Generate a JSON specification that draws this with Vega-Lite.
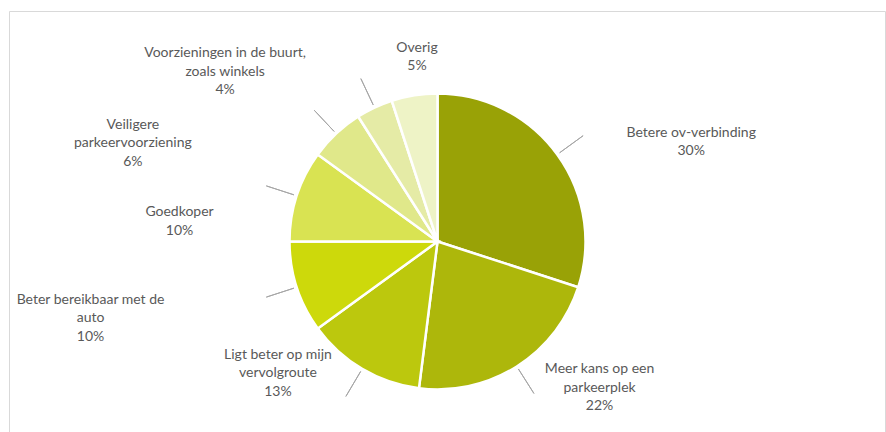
{
  "$schema": "https://vega.github.io/schema/vega-lite/v6.json",
  "width": 876,
  "height": 421,
  "autosize": "none",
  "padding": {"left": 9, "top": 11, "right": 1, "bottom": 0},
  "background": "white",
  "view": {"stroke": "#D9D9D9", "strokeWidth": 1},
  "config": {
    "view": {"stroke": "#D9D9D9", "strokeWidth": 1},
    "text": {"align": "center", "baseline": "middle", "lineBreak": "\n", "font": "Lato", "fontSize": 14, "lineHeight": 18.5, "fill": "#595959"}
  },
  "data": {
    "values": [
      {"rank": 1, "category": "Betere ov-verbinding", "label": "Betere ov-verbinding\n30%", "value": 30},
      {"rank": 2, "category": "Meer kans op een parkeerplek", "label": "Meer kans op een\nparkeerplek\n22%", "value": 22},
      {"rank": 3, "category": "Ligt beter op mijn vervolgroute", "label": "Ligt beter op mijn\nvervolgroute\n13%", "value": 13},
      {"rank": 4, "category": "Beter bereikbaar met de auto", "label": "Beter bereikbaar met de\nauto\n10%", "value": 10},
      {"rank": 5, "category": "Goedkoper", "label": "Goedkoper\n10%", "value": 10},
      {"rank": 6, "category": "Veiligere parkeervoorziening", "label": "Veiligere\nparkeervoorziening\n6%", "value": 6},
      {"rank": 7, "category": "Voorzieningen in de buurt, zoals winkels", "label": "Voorzieningen in de buurt,\nzoals winkels\n4%", "value": 4},
      {"rank": 8, "category": "Overig", "label": "Overig\n5%", "value": 5}
    ]
  },
  "encoding": {
    "theta": {"field": "value", "type": "quantitative", "stack": true},
    "order": {"field": "rank", "type": "quantitative"}
  },
  "layer": [
    {
      "mark": {"type": "arc", "radius": 148, "stroke": "white", "strokeWidth": 2.5, "x": {"expr": "width/2-9.5"}, "y": {"expr": "height/2+20"}},
      "encoding": {
        "color": {
          "field": "category",
          "type": "nominal",
          "legend": null,
          "scale": {
            "domain": ["Betere ov-verbinding", "Meer kans op een parkeerplek", "Ligt beter op mijn vervolgroute", "Beter bereikbaar met de auto", "Goedkoper", "Veiligere parkeervoorziening", "Voorzieningen in de buurt, zoals winkels", "Overig"],
            "range": ["#99A206", "#ADB70B", "#BCC80D", "#CDD90B", "#D9E352", "#E0E88A", "#E5EBA6", "#EEF3C6"]
          }
        }
      }
    },
    {
      "mark": {"type": "arc", "radius": 180, "radius2": 151, "padAngle": 3, "fillOpacity": 0, "stroke": "#A6A6A6", "strokeWidth": 1, "x": {"expr": "width/2-9.5"}, "y": {"expr": "height/2+20"}},
      "encoding": {
        "detail": {"field": "category", "type": "nominal"},
        "strokeOpacity": {"condition": {"test": "datum.category !== 'Overig'", "value": 1}, "value": 0}
      }
    },
    {
      "mark": {"type": "text", "radius": 190, "dx": 100, "dy": 3, "x": {"expr": "width/2-9.5"}, "y": {"expr": "height/2+20"}},
      "encoding": {
        "detail": {"field": "category", "type": "nominal"},
        "text": {"field": "label", "type": "nominal"},
        "opacity": {"condition": {"test": "datum.rank == 1", "value": 1}, "value": 0}
      }
    },
    {
      "mark": {"type": "text", "radius": 170, "dx": 71, "dy": -16, "x": {"expr": "width/2-9.5"}, "y": {"expr": "height/2+20"}},
      "encoding": {
        "detail": {"field": "category", "type": "nominal"},
        "text": {"field": "label", "type": "nominal"},
        "opacity": {"condition": {"test": "datum.rank == 2", "value": 1}, "value": 0}
      }
    },
    {
      "mark": {"type": "text", "radius": 170, "dx": -73, "dy": -33, "x": {"expr": "width/2-9.5"}, "y": {"expr": "height/2+20"}},
      "encoding": {
        "detail": {"field": "category", "type": "nominal"},
        "text": {"field": "label", "type": "nominal"},
        "opacity": {"condition": {"test": "datum.rank == 3", "value": 1}, "value": 0}
      }
    },
    {
      "mark": {"type": "text", "radius": 185, "dx": -171, "dy": 1, "x": {"expr": "width/2-9.5"}, "y": {"expr": "height/2+20"}},
      "encoding": {
        "detail": {"field": "category", "type": "nominal"},
        "text": {"field": "label", "type": "nominal"},
        "opacity": {"condition": {"test": "datum.rank == 4", "value": 1}, "value": 0}
      }
    },
    {
      "mark": {"type": "text", "radius": 185, "dx": -82, "dy": 28, "x": {"expr": "width/2-9.5"}, "y": {"expr": "height/2+20"}},
      "encoding": {
        "detail": {"field": "category", "type": "nominal"},
        "text": {"field": "label", "type": "nominal"},
        "opacity": {"condition": {"test": "datum.rank == 5", "value": 1}, "value": 0}
      }
    },
    {
      "mark": {"type": "text", "radius": 185, "dx": -178, "dy": 18, "x": {"expr": "width/2-9.5"}, "y": {"expr": "height/2+20"}},
      "encoding": {
        "detail": {"field": "category", "type": "nominal"},
        "text": {"field": "label", "type": "nominal"},
        "opacity": {"condition": {"test": "datum.rank == 6", "value": 1}, "value": 0}
      }
    },
    {
      "mark": {"type": "text", "radius": 210, "dx": -123, "dy": 2, "x": {"expr": "width/2-9.5"}, "y": {"expr": "height/2+20"}},
      "encoding": {
        "detail": {"field": "category", "type": "nominal"},
        "text": {"field": "label", "type": "nominal"},
        "opacity": {"condition": {"test": "datum.rank == 7", "value": 1}, "value": 0}
      }
    },
    {
      "mark": {"type": "text", "radius": 195, "dx": 10, "dy": -1, "x": {"expr": "width/2-9.5"}, "y": {"expr": "height/2+20"}},
      "encoding": {
        "detail": {"field": "category", "type": "nominal"},
        "text": {"field": "label", "type": "nominal"},
        "opacity": {"condition": {"test": "datum.rank == 8", "value": 1}, "value": 0}
      }
    }
  ]
}
